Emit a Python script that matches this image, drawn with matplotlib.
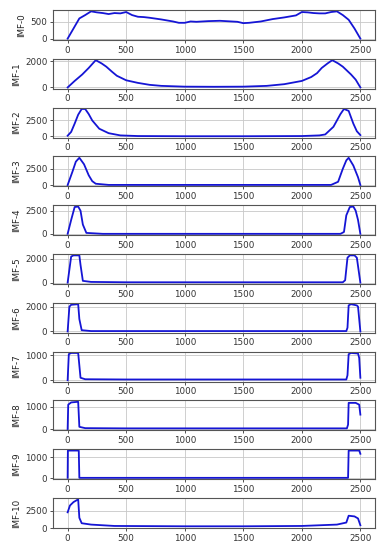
import numpy as np
import matplotlib.pyplot as plt

# sample points, one (x, y) list per IMF
x0 = [0, 50, 100, 150, 200, 250, 300, 350, 400, 450, 500, 550, 600, 650, 700, 800, 900, 950, 1000, 1050,
      1100, 1200, 1300, 1400, 1450, 1500, 1550, 1650, 1750, 1850, 1950, 2000, 2050, 2100, 2150, 2200, 2250,
      2300, 2350, 2400, 2450, 2500]
y0 = [0, 300, 600, 700, 810, 780, 760, 730, 760, 750, 790, 700, 650, 640, 620, 570, 510, 470, 470, 510,
      500, 520, 530, 510, 500, 460, 470, 510, 580, 630, 690, 790, 780, 760, 750, 750, 790,
      810, 700, 560, 300, 0]

x1 = [0, 60, 125, 180, 240, 290, 330, 380, 420, 500, 600, 700, 800, 1000, 1250, 1500, 1700, 1850, 2000,
      2080, 2130, 2170, 2220, 2260, 2310, 2350, 2420, 2460, 2500]
y1 = [0, 500, 1000, 1500, 2100, 1850, 1600, 1200, 900, 550, 350, 200, 120, 60, 50, 60, 120, 250, 500,
      800, 1100, 1500, 1850, 2100, 1850, 1600, 1000, 600, 0]

x2 = [0, 30, 60, 90, 120, 150, 180, 210, 270, 350, 450, 600, 1000, 1500, 2000, 2150, 2200, 2270, 2330,
      2360, 2400, 2440, 2470, 2500]
y2 = [100, 700, 2000, 3400, 4300, 4300, 3500, 2500, 1200, 500, 150, 50, 20, 20, 50, 150, 300, 1500, 3500,
      4300, 4000, 2000, 800, 200]

x3 = [0, 40, 70, 100, 140, 180, 210, 240, 350, 1000, 2000, 2250, 2310, 2350, 2380, 2400, 2440, 2480, 2500]
y3 = [0, 2000, 3600, 4200, 3200, 1500, 600, 200, 20, 20, 20, 20, 500, 2500, 3800, 4200, 3000, 1200, 0]

x4 = [0, 30, 60, 90, 110, 130, 160, 300, 1000, 2000, 2330, 2360, 2380, 2410, 2440, 2460, 2480, 2500]
y4 = [0, 1500, 2900, 2950, 2500, 1000, 100, 0, 0, 0, 0, 200, 2000, 2900, 2950, 2500, 1500, 0]

x5 = [0, 30, 50, 100, 110, 130, 200, 500, 1000, 2000, 2350, 2370, 2390, 2410, 2450, 2470, 2500]
y5 = [0, 2200, 2300, 2300, 1500, 150, 60, 30, 30, 30, 30, 200, 2100, 2300, 2300, 2100, 0]

x6 = [0, 15, 30, 90, 100, 120, 200, 1000, 2000, 2380, 2390, 2400, 2420, 2470, 2480, 2500]
y6 = [0, 2000, 2150, 2200, 1000, 100, 30, 30, 30, 30, 300, 2100, 2200, 2100, 2000, 0]

x7 = [0, 10, 30, 90, 110, 150, 500, 1000, 2000, 2380, 2390, 2400, 2420, 2480, 2490, 2500]
y7 = [0, 1050, 1100, 1100, 100, 40, 30, 30, 30, 30, 200, 1050, 1100, 1080, 900, 100]

x8 = [0, 5, 30, 90, 100, 150, 500, 1000, 2000, 2385, 2395, 2400, 2460, 2490, 2500]
y8 = [0, 1100, 1200, 1230, 100, 40, 30, 30, 30, 30, 200, 1180, 1180, 1100, 650]

x9 = [0, 2, 95, 100, 500, 1000, 2000, 2395, 2400, 2490, 2500]
y9 = [30, 1300, 1300, 30, 30, 30, 30, 30, 1300, 1300, 1150]

x10 = [0, 20, 50, 90, 100, 120, 200, 400, 1000, 1500, 2000, 2300, 2380, 2400, 2450, 2480, 2500]
y10 = [2300, 3300, 3800, 4200, 1500, 700, 500, 300, 250, 250, 300, 500, 800, 1800, 1700, 1400, 400]

xs = [x0, x1, x2, x3, x4, x5, x6, x7, x8, x9, x10]
ys = [y0, y1, y2, y3, y4, y5, y6, y7, y8, y9, y10]
yticks = [[0, 500], [0, 2000], [0, 2500], [0, 2500], [0, 2500], [0, 2000],
          [0, 2000], [0, 1000], [0, 1000], [0, 1000], [0, 2500]]
xticks = [0, 500, 1000, 1500, 2000, 2500]

fig, axes = plt.subplots(11, 1, figsize=(3.84, 5.5), dpi=100)
fig.subplots_adjust(left=53/384, right=375/384, top=1-10/550, bottom=1-528/550, hspace=0.627)

for i, ax in enumerate(axes):
    ax.plot(xs[i], ys[i], color='#1515d5', lw=1.3)
    ax.set_xticks(xticks)
    ax.set_yticks(yticks[i])
    ax.grid(True, color='#c8c8c8', lw=0.6)
    ax.set_ylabel('IMF-%d' % i, fontsize=6.3, labelpad=3, color='#222222')
    ax.tick_params(labelsize=6.3, length=2.5, width=0.6, pad=1.5, colors='#333333')
    for s in ax.spines.values():
        s.set_color('#555555')
        s.set_linewidth(0.8)

plt.savefig('out.png', dpi=100)
